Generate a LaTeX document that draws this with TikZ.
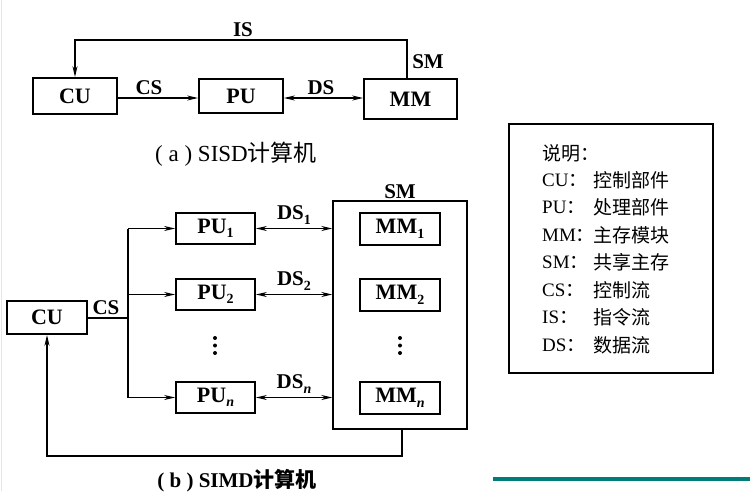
\documentclass[tikz,border=0pt]{standalone}
\usepackage{fontspec}
\setmainfont{Liberation Serif}
\newfontfamily\cjk{Noto Sans CJK SC}
\usetikzlibrary{arrows.meta}
\newcommand\sbs[1]{\raisebox{-4.5pt}{\fontsize{14}{14}\selectfont #1}}
\begin{document}
\begin{tikzpicture}[x=1pt,y=-1pt,
 box/.style={draw,line width=1.8pt,inner sep=0pt,font=\fontsize{22}{24}\selectfont\bfseries},
 lbl/.style={font=\fontsize{21}{23}\selectfont\bfseries,inner sep=0pt},
 leg/.style={font=\fontsize{19}{21}\selectfont,inner sep=0pt,anchor=west},
 con/.style={line width=1.3pt},
 tip/.tip={Stealth[length=11pt,width=5pt]},
 arr/.style={con,-tip},
 darr/.style={con,tip-tip}]
\useasboundingbox (0,0) rectangle (750,491);
\draw[gray!20,line width=1.5pt] (1.5,0) -- (1.5,491);
% ---------- (a)
\node[box,minimum width=84pt,minimum height=36pt] (CUa) at (75,96) {CU};
\node[box,minimum width=84pt,minimum height=34pt] (PUa) at (241,96) {PU};
\node[box,minimum width=93pt,minimum height=40pt] (MMa) at (410.5,99) {MM};
\coordinate (isr) at (407,40);
\draw[arr] (isr |- MMa.north) -- (isr) -| (CUa.north);
\coordinate (csa) at (0,98);
\draw[arr] (CUa.east |- csa) -- (PUa.west |- csa);
\draw[darr] (PUa.east |- csa) -- (MMa.west |- csa);
\node[lbl] (ISl) at (243,30) {IS};
\node[lbl] (SMl) at (428,62) {SM};
\node[lbl] (CSl) at (149,88) {CS};
\node[lbl] (DSl) at (321,88) {DS};
\node[inner sep=0pt,font=\fontsize{23}{25}\selectfont] (capa) at (236,154) {( a ) SISD{\cjk 计算机}};
% ---------- (b)
\node[draw,line width=1.4pt,minimum width=134pt,minimum height=228pt,inner sep=0pt] (SMb) at (400,315) {};
\node[lbl] (SMbl) at (400,192) {SM};
\node[box,minimum width=80pt,minimum height=33pt] (CUb) at (47,317.5) {CU};
\node[box,minimum width=79pt,minimum height=31pt] (PU1) at (215.5,228.5) {PU\sbs{1}};
\node[box,minimum width=79pt,minimum height=31pt] (PU2) at (215.5,294.5) {PU\sbs{2}};
\node[box,minimum width=79pt,minimum height=31pt] (PUn) at (215.5,397.5) {PU\sbs{\textit{n}}};
\node[box,minimum width=80pt,minimum height=32pt] (MM1) at (400,229) {MM\sbs{1}};
\node[box,minimum width=80pt,minimum height=32pt] (MM2) at (400,295) {MM\sbs{2}};
\node[box,minimum width=80pt,minimum height=32pt] (MMn) at (400,398) {MM\sbs{\textit{n}}};
\coordinate (bus) at (128,318);
\draw[con] (CUb.east |- bus) -- (bus);
\draw[con] (bus |- PU1) -- (bus |- PUn);
\draw[arr] (bus |- PU1) -- (PU1.west);
\draw[arr] (bus |- PU2) -- (PU2.west);
\draw[arr] (bus |- PUn) -- (PUn.west);
\draw[darr] (PU1.east) -- (PU1.east -| SMb.west);
\draw[darr] (PU2.east) -- (PU2.east -| SMb.west);
\draw[darr] (PUn.east) -- (PUn.east -| SMb.west);
\node[lbl] (CSb) at (106,308) {CS};
\node[lbl] (DS1) at (294,215) {DS\sbs{1}};
\node[lbl] (DS2) at (294,281) {DS\sbs{2}};
\node[lbl] (DSn) at (294,384) {DS\sbs{\textit{n}}};
\foreach \x/\nm in {215/pd,400/md}{
  \foreach \y/\k in {338/1,345.5/2,353/3}
    \fill (\x,\y) circle (2pt) coordinate (\nm\k);
}
\coordinate (fb) at (402,456);
\draw[arr] (fb |- SMb.south) -- (fb) -| (CUb.south);
\node[inner sep=0pt,font=\fontsize{21}{23}\selectfont\bfseries] (capb) at (237,481) {( b ) SIMD{\cjk\bfseries 计算机}};
% ---------- legend
\node[draw,line width=1.3pt,minimum width=204pt,minimum height=249pt,inner sep=0pt] (legbox) at (611,248.5) {};
\node[leg] (l0) at (542,153) {\cjk 说明：};
\foreach \y/\a/\b/\n in {180/CU/控制部件/1,207.5/PU/处理部件/2,235/MM/主存模块/3,262.5/SM/共享主存/4,290/CS/控制流/5,317.5/IS/指令流/6,345/DS/数据流/7}{
  \node[leg] (la\n) at (542,\y) {\a{\cjk ：}};
  \node[leg] (lb\n) at (593,\y) {\cjk \b};
}
% ---------- bar
\fill[fill={rgb,255:red,0;green,125;blue,120}] (493,477) rectangle (750,481);
\end{tikzpicture}
\end{document}
